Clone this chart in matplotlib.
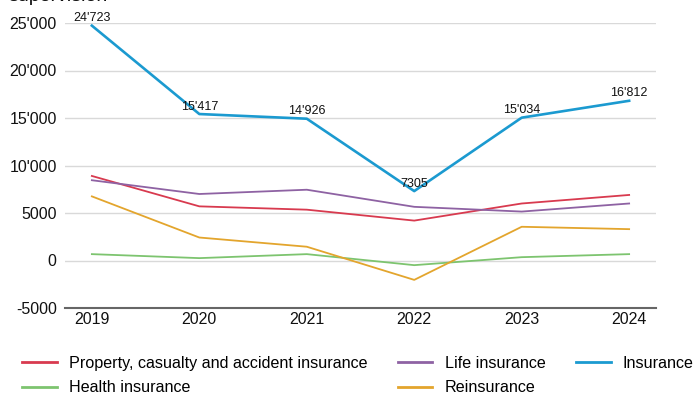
import matplotlib
matplotlib.use("Agg")
import matplotlib.pyplot as plt
from matplotlib.ticker import FuncFormatter, FixedLocator

plt.rcParams['font.family'] = ['Liberation Sans', 'DejaVu Sans']

years = [2019, 2020, 2021, 2022, 2023, 2024]
property_casualty = [8900, 5700, 5350, 4200, 6000, 6900]
life = [8450, 7000, 7450, 5650, 5150, 6000]
insurance = [24723, 15417, 14926, 7305, 15034, 16812]
health = [670, 250, 670, -490, 350, 670]
reinsurance = [6750, 2420, 1450, -2040, 3550, 3300]

y_ticks = [-5000, 0, 5000, 10000, 15000, 20000, 25000]


def swiss(v):
    v = int(round(v))
    s = f"{abs(v):,}".replace(",", "'") if abs(v) >= 10000 else str(abs(v))
    return ("-" if v < 0 else "") + s


fig = plt.figure(figsize=(6.98, 3.94), dpi=100)
ax = fig.add_axes([65 / 698, 1 - 308 / 394, (656 - 65) / 698, (308 - 23) / 394])

series = [
    ("Property, casualty and accident insurance", property_casualty, "#d83a4f", 1.3),
    ("Health insurance", health, "#7dc46f", 1.3),
    ("Life insurance", life, "#8e62a3", 1.3),
    ("Reinsurance", reinsurance, "#e3a52d", 1.3),
    ("Insurance", insurance, "#1b9ad0", 1.9),
]
for name, vals, col, lw in series:
    ax.plot(years, vals, color=col, lw=lw, label=name, clip_on=False,
            zorder=4 if name == "Insurance" else 3)

for x, v in zip(years, insurance):
    ax.annotate(swiss(v), (x, v), xytext=(0, 1), textcoords="offset points",
                ha="center", va="bottom", fontsize=9, color="#111111", zorder=5)

ax.set_xlim(2018.75, 2024.25)
ax.set_ylim(-5000, 25000)
ax.yaxis.set_major_locator(FixedLocator(y_ticks))
ax.yaxis.set_major_formatter(FuncFormatter(lambda v, p: swiss(v)))
ax.set_xticks(years)
ax.set_xticklabels([str(y) for y in years])
ax.grid(axis="y", color="#d9d9d9", lw=1)
ax.set_axisbelow(True)
for s in ["top", "right", "left"]:
    ax.spines[s].set_visible(False)
ax.spines["bottom"].set_color("#666666")
ax.spines["bottom"].set_linewidth(1.5)
ax.tick_params(axis="both", length=0, labelsize=11.5, colors="#111111")
ax.tick_params(axis="y", pad=6)
ax.tick_params(axis="x", pad=3)

fig.text(8 / 698, 1 - 1 / 394, "supervision", fontsize=14, va="baseline",
         ha="left", color="#111111")

leg = fig.legend(loc="upper left", bbox_to_anchor=(22 / 698, 1 - 356 / 394), ncol=3,
                 frameon=False, fontsize=11.6, handlelength=2.15, handletextpad=0.75,
                 columnspacing=1.9, labelspacing=0.58, borderaxespad=0, borderpad=0)
for line in leg.get_lines():
    line.set_linewidth(2)

fig.savefig("out.png", dpi=100)
